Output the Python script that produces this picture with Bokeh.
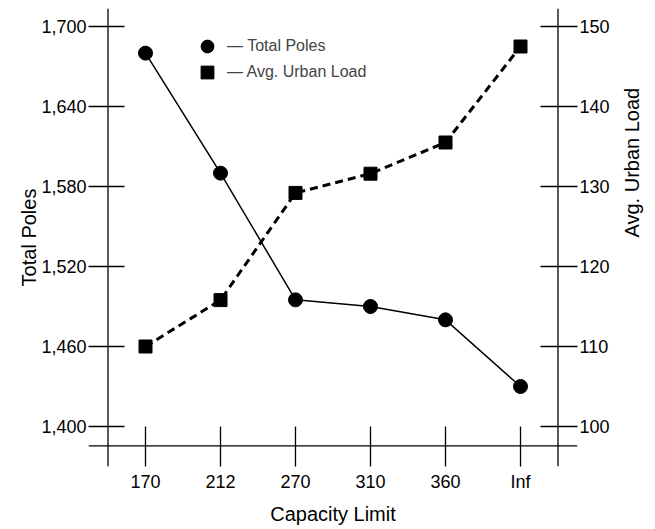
import math
from bokeh.plotting import figure
from bokeh.models import (FactorRange, Range1d, LinearAxis, FixedTicker, NumeralTickFormatter,
                          Span, Legend, LegendItem)
from bokeh.embed import file_html
from bokeh.resources import INLINE

# ---- data ----
capacity = ["170", "212", "270", "310", "360", "Inf"]
total_poles = [1680, 1590, 1495, 1490, 1480, 1430]
avg_urban_load = [110, 115.8, 129.2, 131.6, 135.5, 147.5]
left_ticks = [1400, 1460, 1520, 1580, 1640, 1700]
right_ticks = [100, 110, 120, 130, 140, 150]

FONT = "Liberation Sans"

p = figure(x_range=FactorRange(factors=capacity, range_padding=0.26, range_padding_units="absolute"),
           y_range=Range1d(1370, 1713.5),
           frame_width=489, frame_height=458,
           min_border_left=88, min_border_right=60, min_border_top=8, min_border_bottom=55,
           output_backend="svg", toolbar_location=None, title=None)
p.extra_y_ranges = {"right": Range1d(95, 152.25)}
p.outline_line_color = None
p.xgrid.visible = False
p.ygrid.visible = False
p.background_fill_color = "white"
p.border_fill_color = "white"

# axis lines drawn as spans (crossing style)
for loc in [0, len(capacity)]:
    p.add_layout(Span(location=loc, dimension="height", line_color="black", line_width=1.3))
p.add_layout(Span(location=1385.4, dimension="width", line_color="black", line_width=1.3))

# left axis
ya = p.yaxis[0]
ya.ticker = FixedTicker(ticks=left_ticks)
ya.formatter = NumeralTickFormatter(format="0,0")
ya.axis_label = "Total Poles"

# right axis
ra = LinearAxis(y_range_name="right", ticker=FixedTicker(ticks=right_ticks), axis_label="Avg. Urban Load")
p.add_layout(ra, "right")

xa = p.xaxis[0]
xa.axis_label = "Capacity Limit"

for ax in [ya, ra, xa]:
    ax.axis_line_color = None
    ax.major_tick_out = 0
    ax.minor_tick_line_color = None
    ax.major_tick_line_color = "black"
    ax.major_tick_line_width = 1.3
    ax.major_label_text_font = FONT
    ax.major_label_text_font_size = "18px"
    ax.major_label_text_color = "black"
    ax.axis_label_text_font = FONT
    ax.axis_label_text_font_size = "20px"
    ax.axis_label_text_font_style = "normal"
    ax.axis_label_text_color = "black"
    ax.major_label_standoff = 2
ya.major_tick_in = 36
ra.major_tick_in = 37
xa.major_tick_in = 40
xa.major_label_standoff = 5
ya.axis_label_standoff = -2
ra.axis_label_standoff = 19
xa.axis_label_standoff = 8
ra.axis_label_orientation = math.pi / 2

# series
p.line(capacity, total_poles, line_color="black", line_width=1.5)
r1 = p.scatter(capacity, total_poles, marker="circle", size=14, fill_color="black", line_color="black")
p.line(capacity, avg_urban_load, y_range_name="right", line_color="black", line_width=3, line_dash="8 5")
r2 = p.scatter(capacity, avg_urban_load, y_range_name="right", marker="square", size=13,
               fill_color="black", line_color="black")

common = dict(glyph_width=32, glyph_height=32, padding=0, label_standoff=4, label_text_font=FONT,
              label_text_font_size="16px", background_fill_alpha=0, border_line_color=None, margin=0)
leg1 = Legend(items=[LegendItem(label="\u2014 Total Poles", renderers=[r1])], location=(103, 404), **common)
leg2 = Legend(items=[LegendItem(label="\u2014 Avg. Urban Load", renderers=[r2])], location=(103, 378), **common)
p.add_layout(leg1, "center")
p.add_layout(leg2, "center")

open("out.html", "w").write(file_html(p, INLINE))
